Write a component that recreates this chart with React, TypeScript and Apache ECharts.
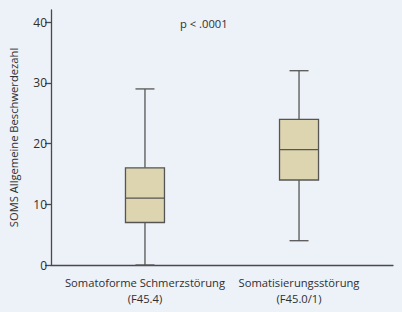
import React, { useEffect, useRef } from "react";
import * as echarts from "echarts";

const categories = ["Somatoforme Schmerzstörung\n(F45.4)", "Somatisierungsstörung\n(F45.0/1)"];
const categoryPositions = [1, 2];
const whiskerLow = [0, 4];
const quartile1 = [7, 14];
const medians = [11, 19];
const quartile3 = [16, 24];
const whiskerHigh = [29, 32];
const yTicks = [0, 10, 20, 30, 40];
const yAxisTitle = "SOMS Allgemeine Beschwerdezahl";
const annotation = "p < .0001";

const FONT = "Open Sans";
const TEXT = "#2f2f2f";
const AXIS = "#4a4a4a";
const FS = 11.2;

export default function App() {
  const ref = useRef<HTMLDivElement>(null);
  useEffect(() => {
    if (!ref.current) return;
    const chart = echarts.init(ref.current, null, { renderer: "svg" });
    const data = categoryPositions.map((x, i) => [
      x,
      whiskerLow[i],
      quartile1[i],
      medians[i],
      quartile3[i],
      whiskerHigh[i],
    ]);
    const boxW = 39;
    const capW = 19;
    const lineStyle = { stroke: "#555555", lineWidth: 1.3, fill: null };
    chart.setOption({
      animation: false,
      backgroundColor: "#edf1f8",
      textStyle: { fontFamily: FONT },
      title: {
        text: annotation,
        left: 175,
        top: 13,
        textStyle: { fontSize: FS, fontWeight: "normal", color: TEXT, fontFamily: FONT },
      },
      grid: { left: 51, right: 9, top: 10, bottom: 47, containLabel: false },
      xAxis: {
        type: "value",
        min: 0.39,
        max: 2.61,
        splitLine: { show: false },
        axisLine: { show: true, lineStyle: { color: AXIS, width: 1.3 } },
        axisTick: { show: false },
        axisLabel: {
          customValues: categoryPositions,
          formatter: (v: number) => categories[Math.round(v) - 1] ?? "",
          color: TEXT,
          fontSize: FS,
          lineHeight: 16,
          margin: 9,
          fontFamily: FONT,
        },
      },
      yAxis: {
        type: "value",
        min: 0,
        max: 42,
        splitLine: { show: false },
        name: yAxisTitle,
        nameLocation: "middle",
        nameGap: 32,
        nameTextStyle: { fontSize: FS, color: TEXT, fontFamily: FONT },
        axisLine: { show: true, lineStyle: { color: AXIS, width: 1.3 } },
        axisTick: { show: true, length: 6, customValues: yTicks, lineStyle: { color: AXIS, width: 1.3 } },
        axisLabel: { customValues: yTicks, color: TEXT, fontSize: 12, margin: 4, fontFamily: FONT },
      },
      series: [
        {
          type: "custom",
          data,
          encode: { x: 0, y: [1, 2, 3, 4, 5] },
          renderItem: (params: any, api: any) => {
            const x = api.value(0);
            const lo = api.coord([x, api.value(1)]);
            const q1 = api.coord([x, api.value(2)]);
            const med = api.coord([x, api.value(3)]);
            const q3 = api.coord([x, api.value(4)]);
            const hi = api.coord([x, api.value(5)]);
            const cx = lo[0];
            return {
              type: "group",
              children: [
                { type: "line", shape: { x1: cx, y1: hi[1], x2: cx, y2: q3[1] }, style: lineStyle },
                { type: "line", shape: { x1: cx, y1: q1[1], x2: cx, y2: lo[1] }, style: lineStyle },
                { type: "line", shape: { x1: cx - capW / 2, y1: hi[1], x2: cx + capW / 2, y2: hi[1] }, style: lineStyle },
                { type: "line", shape: { x1: cx - capW / 2, y1: lo[1], x2: cx + capW / 2, y2: lo[1] }, style: lineStyle },
                {
                  type: "rect",
                  shape: { x: cx - boxW / 2, y: q3[1], width: boxW, height: q1[1] - q3[1] },
                  style: { fill: "#ddd5b0", stroke: "#555555", lineWidth: 1.3 },
                },
                { type: "line", shape: { x1: cx - boxW / 2, y1: med[1], x2: cx + boxW / 2, y2: med[1] }, style: lineStyle },
              ],
            };
          },
        },
      ],
    });
    return () => chart.dispose();
  }, []);
  return <div ref={ref} style={{ width: 402, height: 312, position: "absolute", left: 0, top: 0 }} />;
}
